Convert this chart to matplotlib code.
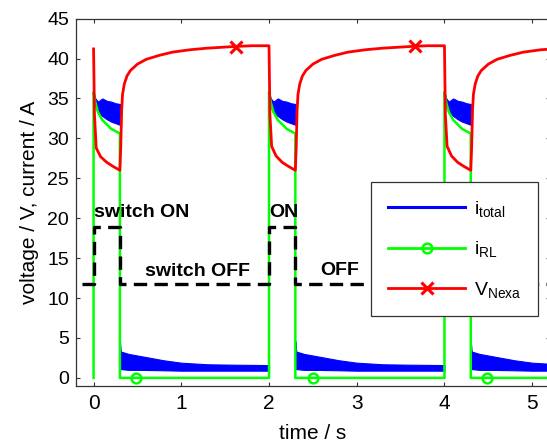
import numpy as np
import matplotlib.pyplot as plt
from matplotlib.lines import Line2D

plt.rcParams['font.family'] = ['Liberation Sans', 'DejaVu Sans']
plt.rcParams['mathtext.fontset'] = 'custom'
plt.rcParams['mathtext.rm'] = 'Liberation Sans'

# V_Nexa (red)
t_red = [0.0, 0.01, 0.03, 0.08, 0.15, 0.22, 0.30, 0.31, 0.32, 0.33, 0.35, 0.38, 0.42, 0.5, 0.6, 0.75, 0.9, 1.1, 1.3, 1.6, 1.8, 2.0,
         2.01, 2.03, 2.08, 2.15, 2.22, 2.30, 2.31, 2.32, 2.33, 2.35, 2.38, 2.42, 2.5, 2.6, 2.75, 2.9, 3.1, 3.3, 3.6, 3.8, 4.0,
         4.01, 4.03, 4.08, 4.15, 4.22, 4.30, 4.31, 4.32, 4.33, 4.35, 4.38, 4.42, 4.5, 4.6, 4.75, 4.9, 5.1, 5.25]
v_red = [41.2, 33.0, 28.8, 27.7, 27.0, 26.5, 26.0, 29.0, 33.5, 35.5, 36.8, 37.8, 38.5, 39.3, 39.9, 40.4, 40.8, 41.1, 41.3, 41.5, 41.6, 41.6,
         33.0, 29.0, 27.8, 27.0, 26.5, 26.0, 29.0, 33.5, 35.5, 36.8, 37.8, 38.5, 39.3, 39.9, 40.4, 40.8, 41.1, 41.3, 41.5, 41.6, 41.6,
         33.0, 29.0, 27.8, 27.0, 26.5, 26.0, 29.0, 33.5, 35.5, 36.8, 37.8, 38.5, 39.3, 39.9, 40.4, 40.8, 41.1, 41.2]
t_red_mark = [1.62, 3.66]
v_red_mark = [41.5, 41.6]

# i_RL (green)
t_green = [0.0, 0.0, 0.02, 0.05, 0.1, 0.2, 0.3, 0.3, 2.0,
           2.0, 2.02, 2.05, 2.1, 2.2, 2.3, 2.3, 4.0,
           4.0, 4.02, 4.05, 4.1, 4.2, 4.3, 4.3, 5.25]
v_green = [0.0, 35.8, 34.5, 33.3, 32.3, 31.2, 30.6, 0.0, 0.0,
           35.8, 34.5, 33.3, 32.3, 31.2, 30.6, 0.0, 0.0,
           35.8, 34.5, 33.3, 32.3, 31.2, 30.6, 0.0, 0.0]
t_green_mark = [0.48, 2.5, 4.48]
v_green_mark = [0.0, 0.0, 0.0]

# i_total (blue) ripple band, switch ON segments
t_on = [0.0, 0.02, 0.05, 0.1, 0.15, 0.2, 0.25, 0.3]
on_hi = [35.8, 35.0, 34.6, 35.0, 34.7, 34.6, 34.4, 34.3]
on_lo = [35.5, 34.0, 33.2, 32.8, 32.4, 32.1, 31.9, 31.7]
on_starts = [0.0, 2.0, 4.0]
# switch OFF segments
t_off = [0.0, 0.01, 0.1, 0.25, 0.5, 0.7, 1.0, 1.3, 1.7]
off_hi = [4.6, 3.3, 3.0, 2.7, 2.2, 1.9, 1.7, 1.65, 1.6]
off_lo = [1.1, 1.1, 1.0, 1.0, 0.95, 0.9, 0.9, 0.9, 0.9]
off_starts = [0.3, 2.3, 4.3]

# switch signal (black dashed)
t_sw = [-0.13, 0.0, 0.0, 0.3, 0.3, 2.0, 2.0, 2.3, 2.3, 4.0, 4.0, 4.3, 4.3, 5.25]
v_sw = [11.7, 11.7, 18.9, 18.9, 11.7, 11.7, 18.9, 18.9, 11.7, 11.7, 18.9, 18.9, 11.7, 11.7]

fig = plt.figure(figsize=(5.47, 4.43), dpi=100)
ax = fig.add_axes([0.139, 0.129, 0.866, 0.829])

for s in on_starts:
    ax.fill_between(np.array(t_on) + s, on_lo, on_hi, color='blue', lw=0.8, edgecolor='blue')
for s in off_starts:
    ax.fill_between(np.array(t_off) + s, off_lo, off_hi, color='blue', lw=0.8, edgecolor='blue')

ax.plot(t_green, v_green, color='#00ff00', lw=1.8)
ax.plot(t_green_mark, v_green_mark, 'o', color='#00ff00', mfc='none', ms=7, mew=1.8)
ax.plot(t_red, v_red, color='red', lw=2.0)
ax.plot(t_red_mark, v_red_mark, 'x', color='red', ms=8, mew=2.2)
ax.plot(t_sw, v_sw, color='black', lw=2.4, dashes=(4, 2.2))

kw = dict(fontsize=14, fontweight='bold', va='center')
ax.text(0.01, 20.7, 'switch ON', ha='left', **kw)
ax.text(1.18, 13.3, 'switch OFF', ha='center', **kw)
ax.text(2.0, 20.7, 'ON', ha='left', **kw)
ax.text(2.81, 13.4, 'OFF', ha='center', **kw)

ax.set_xlim(-0.2, 5.2)
ax.set_ylim(-1, 45)
ax.set_xticks([0, 1, 2, 3, 4, 5])
ax.set_yticks(range(0, 46, 5))
ax.tick_params(direction='in', top=True, right=True, length=3, width=0.8, colors='#333333', labelcolor='black')
ax.tick_params(axis='x', labelsize=15, pad=6)
ax.tick_params(axis='y', labelsize=14, pad=5)
for sp in ax.spines.values():
    sp.set_color('#333333')
    sp.set_linewidth(0.9)
ax.set_xlabel('time / s', fontsize=15, labelpad=8)
ax.set_ylabel('voltage / V, current / A', fontsize=15, labelpad=6)

handles = [
    Line2D([], [], color='blue', lw=2.2),
    Line2D([], [], color='#00ff00', lw=2.0, marker='o', mfc='none', ms=7, mew=1.8),
    Line2D([], [], color='red', lw=2.0, marker='x', ms=8, mew=2.2),
]
labels = [r'$\mathregular{i_{total}}$', r'$\mathregular{i_{RL}}$', r'$\mathregular{V_{Nexa}}$']
leg = ax.legend(handles, labels, loc='upper left', bbox_to_anchor=(0.623, 0.554), fontsize=14,
                handlelength=4.0, handletextpad=0.45, labelspacing=1.05, borderpad=0.85,
                fancybox=False, framealpha=1, edgecolor='#333333', borderaxespad=0)
leg.get_frame().set_linewidth(0.9)

fig.savefig('out.png', dpi=100)
